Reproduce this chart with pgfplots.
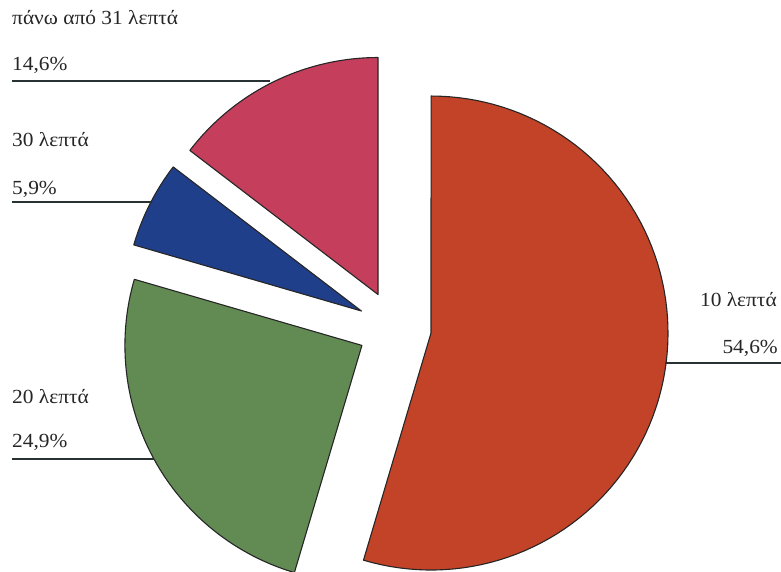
\documentclass[border=0pt]{standalone}
\usepackage{pgfplots}
\pgfplotsset{compat=1.18}
\usepackage{fontspec}
\setmainfont{Liberation Serif}
\definecolor{cRed}{RGB}{194,67,39}
\definecolor{cGreen}{RGB}{98,139,84}
\definecolor{cBlue}{RGB}{32,63,138}
\definecolor{cPink}{RGB}{197,63,92}
\definecolor{cLine}{RGB}{40,50,50}
% slice: #1 cumulative before (%), #2 value (%), #3 colour
\newcommand{\slice}[3]{%
  \pgfmathsetmacro\aS{90-3.6*#1}%
  \pgfmathsetmacro\aE{90-3.6*(#1+#2)}%
  \pgfmathsetmacro\aM{(\aS+\aE)/2}%
  \pgfmathsetmacro\ox{394.4+37*cos(\aM)}%
  \pgfmathsetmacro\oy{243.3+37*sin(\aM)}%
  \edef\temp{\noexpand\addplot[fill=#3, draw=black!85, line width=1.1pt, line join=round, domain=\aE:\aS, samples=90]
    ({\ox+237*cos(x)},{\oy+237*sin(x)}) -- (axis cs:\ox,\oy) -- cycle;}%
  \temp
}
\tikzset{lab/.style={inner sep=0pt, text=black!85, xscale=1.07, font=\fontsize{20}{24}\selectfont}}
\begin{document}
\begin{tikzpicture}
\begin{axis}[
  scale only axis, width=781pt, height=571pt,
  xmin=0, xmax=781, ymin=0, ymax=571,
  hide axis, clip=false,
]
\slice{0}{54.6}{cRed}
\slice{54.6}{24.9}{cGreen}
\slice{79.5}{5.9}{cBlue}
\slice{85.4}{14.6}{cPink}
% leader lines
\addplot[cLine, line width=1.4pt] coordinates {(12,490) (270,490)};
\addplot[cLine, line width=1.4pt] coordinates {(12,369) (152,369)};
\addplot[cLine, line width=1.4pt] coordinates {(12,112) (154,112)};
\addplot[cLine, line width=1.4pt] coordinates {(665,208) (781,208)};
% labels
\node[lab, anchor=base west] at (axis cs:12,546) {πάνω από 31 λεπτά};
\node[lab, anchor=base west] at (axis cs:12,500) {14,6\%};
\node[lab, anchor=base west] at (axis cs:12,424) {30 λεπτά};
\node[lab, anchor=base west] at (axis cs:12,376) {5,9\%};
\node[lab, anchor=base west] at (axis cs:12,168) {20 λεπτά};
\node[lab, anchor=base west] at (axis cs:12,124) {24,9\%};
\node[lab, anchor=base east] at (axis cs:777,264) {10 λεπτά};
\node[lab, anchor=base east] at (axis cs:778,218) {54,6\%};
\end{axis}
\pgfresetboundingbox
\path[use as bounding box] (current axis.south west) rectangle (current axis.north east);
\end{tikzpicture}
\end{document}
